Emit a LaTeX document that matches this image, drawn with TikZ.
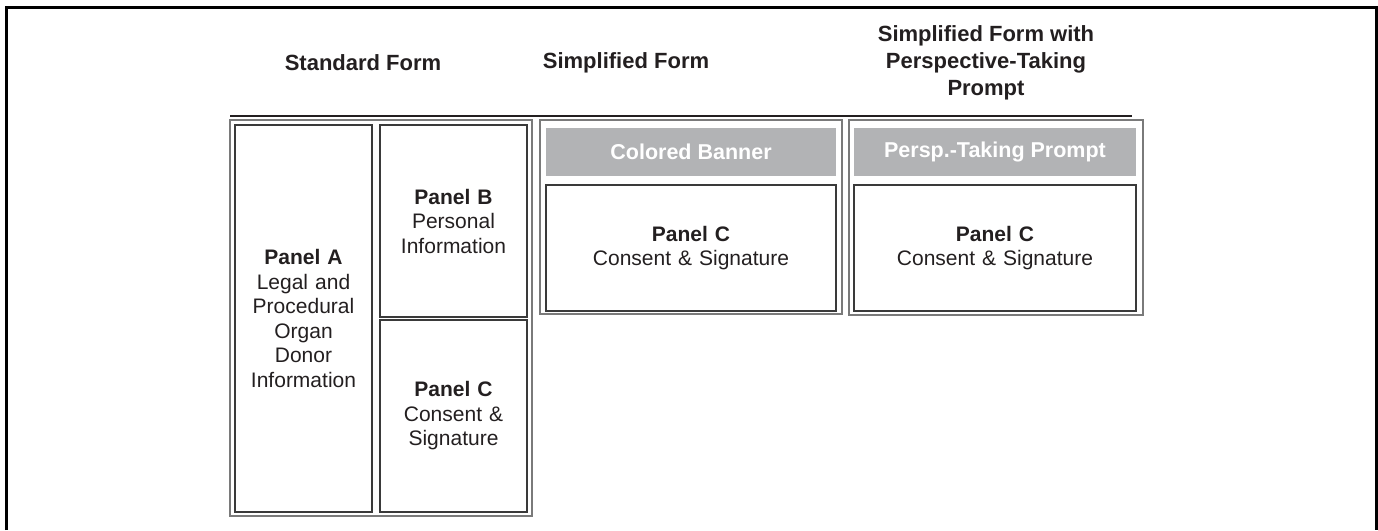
\documentclass[tikz,border=0pt]{standalone}
\usepackage{fontspec}
\setmainfont{Liberation Sans}
\definecolor{txt}{HTML}{231F20}
\definecolor{outerc}{HTML}{7A7A7A}
\definecolor{panelc}{HTML}{3A3A3A}
\definecolor{bannerc}{HTML}{B2B3B5}
\tikzset{
  titletext/.style={font=\fontsize{22}{27}\selectfont\bfseries, text=txt, align=center, inner sep=0pt},
  outerbox/.style={draw=outerc, line width=1.2pt, inner sep=0pt},
  panelbox/.style={draw=panelc, line width=1.1pt, inner sep=0pt, text=txt, align=center, font=\fontsize{21}{24.5}\selectfont},
  bannerbox/.style={fill=bannerc, inner sep=0pt, text=white, font=\fontsize{21.5}{24}\selectfont\bfseries},
}
\begin{document}
\begin{tikzpicture}[x=1pt,y=-1pt]
\useasboundingbox (0,0) rectangle (1378,530);
% outer frame (open at the bottom)
\coordinate (fbl) at (6,530);
\coordinate (ftl) at (6,7);
\coordinate (ftr) at (1376,7);
\coordinate (fbr) at (1376,530);
\draw[line width=3pt] (fbl) -- (ftl) -- (ftr) -- (fbr);
% titles
\node[titletext] (t1) at (363,63) {Standard Form};
\node[titletext] (t2) at (626,63) {Simplified Form};
\node[titletext] (t3) at (986,63) {Simplified Form with\\Perspective-Taking\\Prompt};
% rule
\coordinate (rl) at (230,116);
\coordinate (rr) at (1132,116);
\draw[line width=2pt, color=txt] (rl) -- (rr);
% standard form
\node[outerbox, minimum width=302pt, minimum height=396pt] (so) at (381,318) {};
\node[panelbox, minimum width=137pt, minimum height=387pt, text width=130pt] (pa) at (303.5,318.5)
  {\textbf{Panel A}\\Legal and\\Procedural\\Organ\\Donor\\Information};
\node[panelbox, minimum width=147pt, minimum height=192pt, text width=140pt] (pb) at (453.5,221)
  {\textbf{Panel B}\\Personal\\Information};
\node[panelbox, minimum width=147pt, minimum height=192pt, text width=140pt] (pc1) at (453.5,416)
  {\textbf{Panel C}\\Consent \&\\Signature};
% simplified form
\node[outerbox, minimum width=302pt, minimum height=194pt] (s2) at (691,217) {};
\node[bannerbox, minimum width=290pt, minimum height=48pt] (b2) at (691,152) {Colored Banner};
\node[panelbox, minimum width=290pt, minimum height=126pt, text width=280pt] (pc2) at (691,248)
  {\textbf{Panel C}\\Consent \& Signature};
% simplified form with prompt
\node[outerbox, minimum width=294pt, minimum height=195pt] (s3) at (996,217.5) {};
\node[bannerbox, minimum width=282pt, minimum height=48pt] (b3) at (995,152) {Persp.-Taking Prompt};
\node[panelbox, minimum width=282pt, minimum height=126pt, text width=272pt] (pc3) at (995,248)
  {\textbf{Panel C}\\Consent \& Signature};
\end{tikzpicture}
\end{document}
